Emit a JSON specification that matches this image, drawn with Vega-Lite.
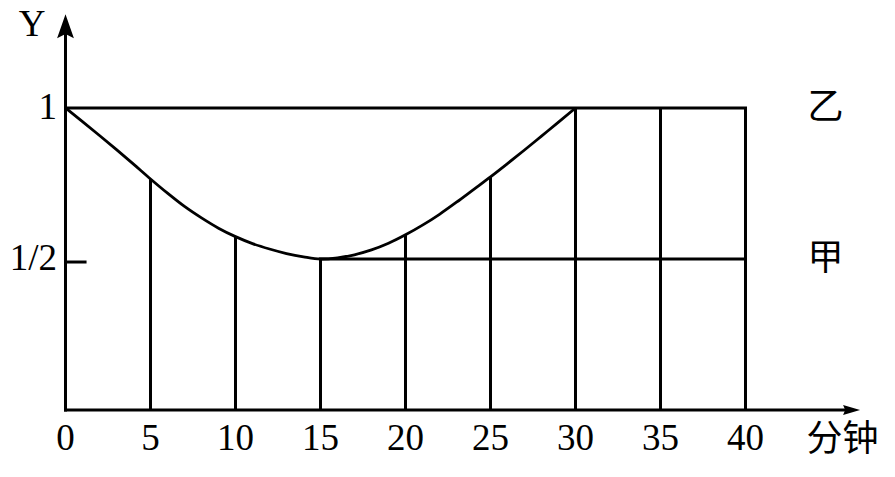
{
  "$schema": "https://vega.github.io/schema/vega-lite/v6.json",
  "width": 895,
  "height": 477,
  "padding": 0,
  "autosize": {"type": "none"},
  "background": "white",
  "config": {"view": {"stroke": null}},
  "data": {"values": [{"item": "frame"}]},
  "datasets": {
    "curve": [
      {"minute": 0, "y": 1.0}, {"minute": 1, "y": 0.955}, {"minute": 2, "y": 0.909},
      {"minute": 3, "y": 0.862}, {"minute": 4, "y": 0.814}, {"minute": 5, "y": 0.765},
      {"minute": 6, "y": 0.718}, {"minute": 7, "y": 0.674}, {"minute": 8, "y": 0.636},
      {"minute": 9, "y": 0.602}, {"minute": 10, "y": 0.574}, {"minute": 11, "y": 0.551},
      {"minute": 12, "y": 0.533}, {"minute": 13, "y": 0.518}, {"minute": 14, "y": 0.507},
      {"minute": 15, "y": 0.5}, {"minute": 16, "y": 0.504}, {"minute": 17, "y": 0.514},
      {"minute": 18, "y": 0.53}, {"minute": 19, "y": 0.552}, {"minute": 20, "y": 0.58},
      {"minute": 21, "y": 0.612}, {"minute": 22, "y": 0.648}, {"minute": 23, "y": 0.688},
      {"minute": 24, "y": 0.73}, {"minute": 25, "y": 0.772}, {"minute": 26, "y": 0.816},
      {"minute": 27, "y": 0.861}, {"minute": 28, "y": 0.907}, {"minute": 29, "y": 0.953},
      {"minute": 30, "y": 1.0}
    ],
    "verticals": [
      {"minute": 5, "base": 0, "top": 0.765}, {"minute": 10, "base": 0, "top": 0.574},
      {"minute": 15, "base": 0, "top": 0.5}, {"minute": 20, "base": 0, "top": 0.58},
      {"minute": 25, "base": 0, "top": 0.772}, {"minute": 30, "base": 0, "top": 1.0},
      {"minute": 35, "base": 0, "top": 1.0}, {"minute": 40, "base": 0, "top": 1.0}
    ],
    "horizontals": [
      {"series": "乙", "from": 0, "to": 40, "y": 1.0},
      {"series": "甲", "from": 15, "to": 40, "y": 0.5}
    ],
    "axes": [
      {"part": "x-axis", "x": 0, "x2": 46, "y": 0, "y2": 0},
      {"part": "y-axis", "x": 0, "x2": 0, "y": 0, "y2": 1.26},
      {"part": "half-tick", "x": 0, "x2": 1.15, "y": 0.49, "y2": 0.49}
    ],
    "xticks": [
      {"minute": 0}, {"minute": 5}, {"minute": 10}, {"minute": 15}, {"minute": 20},
      {"minute": 25}, {"minute": 30}, {"minute": 35}, {"minute": 40}
    ],
    "yticks": [
      {"label": "1", "value": 1.0},
      {"label": "1/2", "value": 0.5}
    ]
  },
  "layer": [
    {
      "data": {"name": "axes"},
      "mark": {"type": "rule", "color": "black", "strokeWidth": 3, "strokeCap": "square"},
      "encoding": {
        "x": {"field": "x", "type": "quantitative", "scale": {"domain": [-3.853, 48.794], "nice": false, "zero": false}, "axis": null},
        "x2": {"field": "x2"},
        "y": {"field": "y", "type": "quantitative", "scale": {"domain": [-0.2219, 1.3576], "nice": false, "zero": false}, "axis": null},
        "y2": {"field": "y2"}
      }
    },
    {
      "mark": {"type": "point", "shape": "M 1 0 L -1 -0.6 L -0.75 0 L -1 0.6 Z", "filled": true, "color": "black", "opacity": 1, "size": 289},
      "encoding": {
        "x": {"datum": 46.24, "type": "quantitative", "scale": {"domain": [-3.853, 48.794], "nice": false, "zero": false}, "axis": null},
        "y": {"datum": 0, "type": "quantitative", "scale": {"domain": [-0.2219, 1.3576], "nice": false, "zero": false}, "axis": null}
      }
    },
    {
      "mark": {"type": "point", "shape": "M 0 -1 L 0.7 1 L 0 0.65 L -0.7 1 Z", "filled": true, "color": "black", "opacity": 1, "size": 576},
      "encoding": {
        "x": {"datum": 0, "type": "quantitative", "scale": {"domain": [-3.853, 48.794], "nice": false, "zero": false}, "axis": null},
        "y": {"datum": 1.2705, "type": "quantitative", "scale": {"domain": [-0.2219, 1.3576], "nice": false, "zero": false}, "axis": null}
      }
    },
    {
      "data": {"name": "horizontals"},
      "mark": {"type": "rule", "color": "black", "strokeWidth": 3, "strokeCap": "square"},
      "encoding": {
        "x": {"field": "from", "type": "quantitative", "scale": {"domain": [-3.853, 48.794], "nice": false, "zero": false}, "axis": null},
        "x2": {"field": "to"},
        "y": {"field": "y", "type": "quantitative", "scale": {"domain": [-0.2219, 1.3576], "nice": false, "zero": false}, "axis": null}
      }
    },
    {
      "data": {"name": "verticals"},
      "mark": {"type": "rule", "color": "black", "strokeWidth": 3},
      "encoding": {
        "x": {"field": "minute", "type": "quantitative", "scale": {"domain": [-3.853, 48.794], "nice": false, "zero": false}, "axis": null},
        "y": {"field": "base", "type": "quantitative", "scale": {"domain": [-0.2219, 1.3576], "nice": false, "zero": false}, "axis": null},
        "y2": {"field": "top"}
      }
    },
    {
      "data": {"name": "curve"},
      "mark": {"type": "line", "color": "black", "strokeWidth": 2.8, "interpolate": "monotone"},
      "encoding": {
        "x": {"field": "minute", "type": "quantitative", "scale": {"domain": [-3.853, 48.794], "nice": false, "zero": false}, "axis": null},
        "y": {"field": "y", "type": "quantitative", "scale": {"domain": [-0.2219, 1.3576], "nice": false, "zero": false}, "axis": null}
      }
    },
    {
      "data": {"name": "xticks"},
      "mark": {"type": "text", "font": "Liberation Serif", "fontSize": 37, "color": "black", "align": "center", "baseline": "middle"},
      "encoding": {
        "x": {"field": "minute", "type": "quantitative", "scale": {"domain": [-3.853, 48.794], "nice": false, "zero": false}, "axis": null},
        "y": {"datum": -0.096, "type": "quantitative", "scale": {"domain": [-0.2219, 1.3576], "nice": false, "zero": false}, "axis": null},
        "text": {"field": "minute", "type": "quantitative"}
      }
    },
    {
      "data": {"name": "yticks"},
      "mark": {"type": "text", "font": "Liberation Serif", "fontSize": 37, "color": "black", "align": "right", "baseline": "middle"},
      "encoding": {
        "x": {"datum": -0.5, "type": "quantitative", "scale": {"domain": [-3.853, 48.794], "nice": false, "zero": false}, "axis": null},
        "y": {"field": "value", "type": "quantitative", "scale": {"domain": [-0.2219, 1.3576], "nice": false, "zero": false}, "axis": null},
        "text": {"field": "label", "type": "nominal"}
      }
    },
    {
      "data": {"name": "horizontals"},
      "mark": {"type": "text", "font": "Noto Sans CJK SC", "fontSize": 36, "color": "black", "align": "center", "baseline": "middle"},
      "encoding": {
        "x": {"datum": 44.7, "type": "quantitative", "scale": {"domain": [-3.853, 48.794], "nice": false, "zero": false}, "axis": null},
        "y": {"field": "y", "type": "quantitative", "scale": {"domain": [-0.2219, 1.3576], "nice": false, "zero": false}, "axis": null},
        "text": {"field": "series", "type": "nominal"}
      }
    },
    {
      "mark": {"type": "text", "text": "Y", "font": "Liberation Serif", "fontSize": 37, "color": "black", "align": "center", "baseline": "middle"},
      "encoding": {
        "x": {"datum": -1.97, "type": "quantitative", "scale": {"domain": [-3.853, 48.794], "nice": false, "zero": false}, "axis": null},
        "y": {"datum": 1.275, "type": "quantitative", "scale": {"domain": [-0.2219, 1.3576], "nice": false, "zero": false}, "axis": null}
      }
    },
    {
      "mark": {"type": "text", "text": "分钟", "font": "Noto Sans CJK SC", "fontSize": 36, "color": "black", "align": "center", "baseline": "middle"},
      "encoding": {
        "x": {"datum": 45.7, "type": "quantitative", "scale": {"domain": [-3.853, 48.794], "nice": false, "zero": false}, "axis": null},
        "y": {"datum": -0.1, "type": "quantitative", "scale": {"domain": [-0.2219, 1.3576], "nice": false, "zero": false}, "axis": null}
      }
    }
  ]
}
